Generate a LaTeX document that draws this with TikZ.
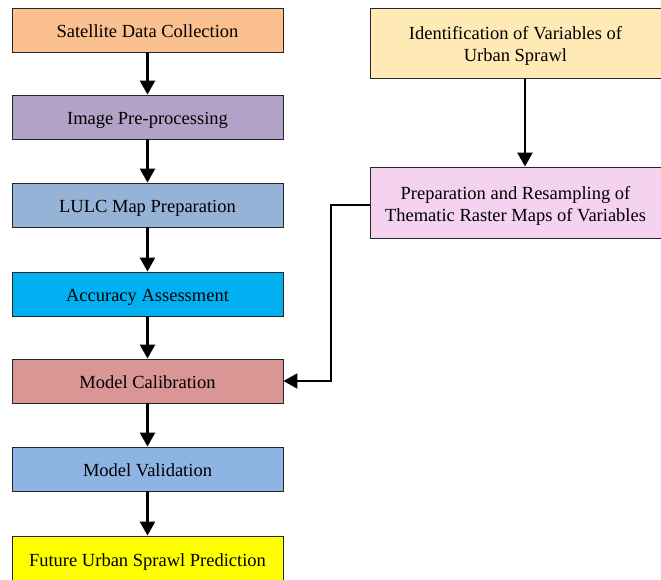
\documentclass[tikz,border=0pt]{standalone}
\usepackage{fontspec}
\setmainfont{Liberation Serif}
\usetikzlibrary{arrows.meta}
\definecolor{cOrange}{HTML}{FAC090}
\definecolor{cPurple}{HTML}{B3A2C7}
\definecolor{cSteel}{HTML}{95B3D7}
\definecolor{cCyan}{HTML}{00B0F0}
\definecolor{cRose}{HTML}{D99694}
\definecolor{cBlue}{HTML}{8EB4E3}
\definecolor{cYellow}{HTML}{FFFF00}
\definecolor{cCream}{HTML}{FFE9B5}
\definecolor{cPink}{HTML}{F4D2F0}
\tikzset{
  box/.style={draw=black!85, line width=0.9pt, minimum width=271pt, minimum height=44pt, inner sep=0pt, align=center, text height=15.5pt, text depth=0pt, font=\fontsize{18.5}{22}\selectfont},
  rbox/.style={draw=black!85, line width=0.9pt, minimum width=291pt, minimum height=70pt, inner sep=0pt},
  rtxt/.style={inner sep=0pt, align=center, font=\fontsize{18.5}{22}\selectfont},
  arr/.style={line width=2.4pt, -{Triangle[width=15pt,length=14pt]}},
}
\begin{document}
\begin{tikzpicture}[x=1pt,y=-1pt]
\useasboundingbox (0,0) rectangle (661,580);
\node[box, fill=cOrange] (n1) at (147.5,30) {Satellite Data Collection};
\node[box, fill=cPurple] (n2) at (147.5,117) {Image Pre-processing};
\node[box, fill=cSteel] (n3) at (147.5,205) {LULC Map Preparation};
\node[box, fill=cCyan] (n4) at (147.5,294) {Accuracy Assessment};
\node[box, fill=cRose] (n5) at (147.5,381) {Model Calibration};
\node[box, fill=cBlue] (n6) at (147.5,469) {Model Validation};
\node[box, fill=cYellow, minimum height=46pt] (n7) at (147.5,559) {Future Urban Sprawl Prediction};
\node[rbox, fill=cCream] (r1) at (515.5,43) {};
\node[rtxt] (t1) at ([yshift=-3pt]r1.center) {Identification of Variables of\\Urban Sprawl};
\node[rbox, fill=cPink, minimum height=71pt] (r2) at (515.5,202.5) {};
\node[rtxt] (t2) at ([yshift=-3pt]r2.center) {Preparation and Resampling of\\Thematic Raster Maps of Variables};
\coordinate (c1) at (331,205);
\coordinate (c2) at (331,381);
\draw[arr] (n1) -- (n2);
\draw[arr] (n2) -- (n3);
\draw[arr] (n3) -- (n4);
\draw[arr] (n4) -- (n5);
\draw[arr] (n5) -- (n6);
\draw[arr] (n6) -- (n7);
\draw[arr] (r1.south -| 525,0) -- (r2.north -| 525,0);
\draw[arr] (r2.west |- c1) -- (c1) -- (c2) -- (n5.east);
\end{tikzpicture}
\end{document}
